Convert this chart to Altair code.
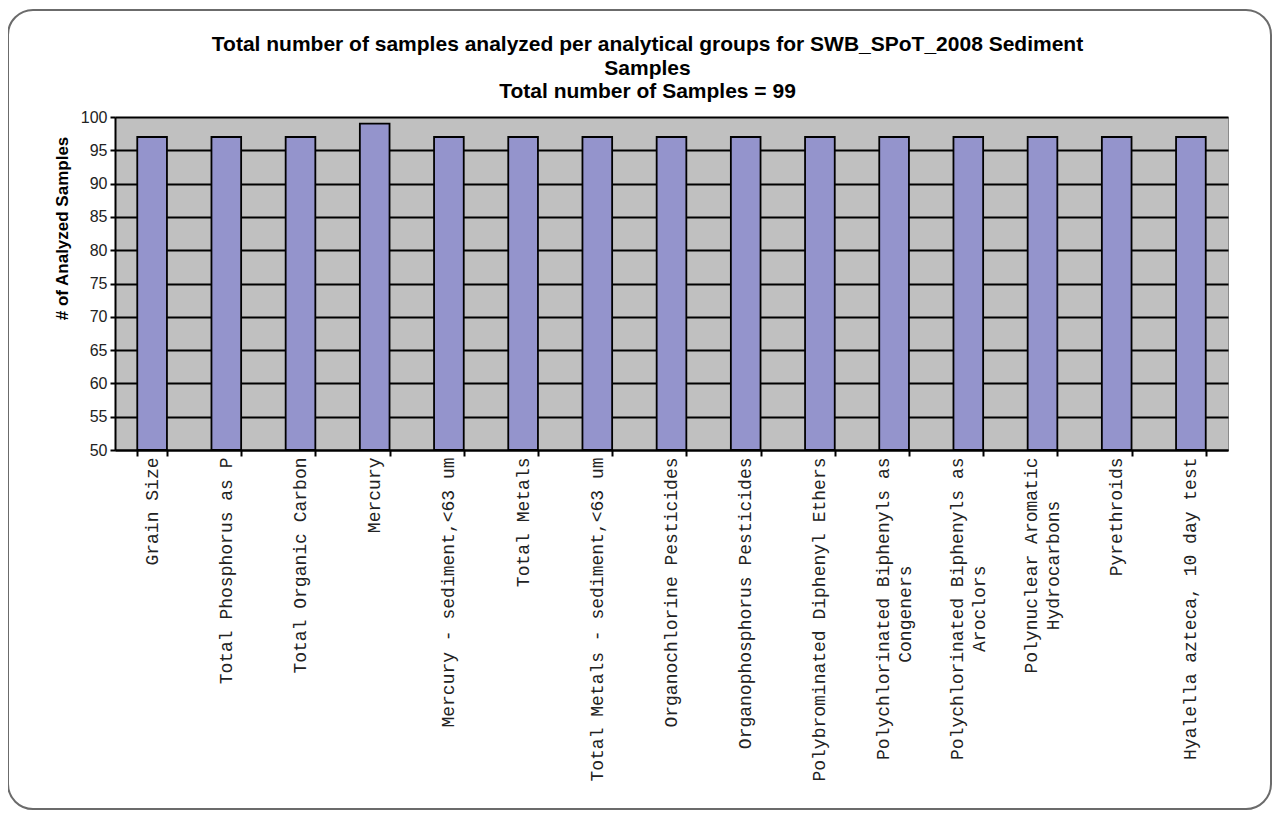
import altair as alt
import pandas as pd

categories = [
    "Grain Size",
    "Total Phosphorus as P",
    "Total Organic Carbon",
    "Mercury",
    "Mercury - sediment,<63 um",
    "Total Metals",
    "Total Metals - sediment,<63 um",
    "Organochlorine Pesticides",
    "Organophosphorus Pesticides",
    "Polybrominated Diphenyl Ethers",
    "Polychlorinated Biphenyls as Congeners",
    "Polychlorinated Biphenyls as Aroclors",
    "Polynuclear Aromatic Hydrocarbons",
    "Pyrethroids",
    "Hyalella azteca, 10 day test",
]
values = [97, 97, 97, 99, 97, 97, 97, 97, 97, 97, 97, 97, 97, 97, 97]

# second lines padded with non-breaking spaces (closed by a zero-width char so
# they are not trimmed) so that they sit centred under the first line
NB = "\u00a0"
ZW = "\u200b"
tick_labels = [
    "Grain Size",
    "Total Phosphorus as P",
    "Total Organic Carbon",
    "Mercury",
    "Mercury - sediment,<63 um",
    "Total Metals",
    "Total Metals - sediment,<63 um",
    "Organochlorine Pesticides",
    "Organophosphorus Pesticides",
    "Polybrominated Diphenyl Ethers",
    "Polychlorinated Biphenyls as|Congeners" + NB * 10 + ZW,
    "Polychlorinated Biphenyls as|Aroclors" + NB * 10 + ZW,
    "Polynuclear Aromatic|Hydrocarbons" + NB * 4 + ZW,
    "Pyrethroids",
    "Hyalella azteca, 10 day test",
]
y_ticks = [50, 55, 60, 65, 70, 75, 80, 85, 90, 95, 100]
y_min = 50

title_lines = [
    "Total number of samples analyzed per analytical groups for SWB_SPoT_2008 Sediment",
    "Samples",
    "Total number of Samples = 99",
]

df = pd.DataFrame({"group": tick_labels, "name": categories, "count": values})

W, H = 1113, 333

bars = alt.Chart(df).mark_bar(
    color="#9494CC", stroke="black", strokeWidth=1.8
).encode(
    x=alt.X(
        "group:N",
        sort=None,
        scale=alt.Scale(paddingInner=0.6, paddingOuter=0.3),
        axis=alt.Axis(
            title=None,
            labelAngle=-90,
            labelFont="Liberation Mono",
            labelFontSize=18,
            labelColor="#222222",
            labelLineHeight=22,
            labelPadding=1,
            labelExpr="split(datum.label, '|')",
            labelOffset={
                "condition": {
                    "test": "isString(datum.value) && indexof(datum.value, '|') >= 0",
                    "value": -11,
                },
                "value": 0,
            },
            tickBand="extent",
            tickSize=6,
            tickWidth=2,
            tickColor="black",
            domainColor="black",
            domainWidth=2,
            grid=False,
            labelOverlap=False,
            labelLimit=0,
            zindex=2,
        ),
    ),
    y=alt.Y(
        "count:Q",
        scale=alt.Scale(domain=[50, 100], zero=False, nice=False),
        axis=alt.Axis(
            title="# of Analyzed Samples",
            titleFont="Liberation Sans",
            titleFontSize=17,
            titleFontWeight="bold",
            titleColor="black",
            titleX=-53,
            titleY=111,
            titleBaseline="middle",
            values=y_ticks,
            labelFont="Liberation Sans",
            labelFontSize=16,
            labelColor="#222222",
            labelPadding=3,
            tickSize=5,
            tickWidth=2,
            tickColor="black",
            domainColor="black",
            domainWidth=2,
            grid=True,
            gridColor="black",
            gridWidth=2,
        ),
    ),
    y2=alt.datum(y_min),
    tooltip=["name:N", "count:Q"],
)

one = pd.DataFrame({"f": [0]})

frame = alt.Chart(one).mark_rect(
    filled=False, stroke="#6b6b6b", strokeWidth=2, cornerRadius=25
).encode(
    x=alt.value(-107), x2=alt.value(1156), y=alt.value(-107), y2=alt.value(692)
)

title = alt.Chart(one).mark_text(
    text=title_lines,
    font="Liberation Sans",
    fontSize=21,
    fontWeight="bold",
    color="black",
    align="center",
    baseline="top",
    lineHeight=23.5,
).encode(x=alt.value(W / 2 - 24), y=alt.value(-83))

chart = alt.layer(frame, bars, title).properties(
    width=W,
    height=H,
    background="white",
    autosize=alt.AutoSizeParams(type="none"),
    padding={"left": 107, "top": 109, "right": 45, "bottom": 361},
).configure_view(
    fill="#C0C0C0", stroke="#8a8a8a", strokeWidth=1
)

chart.save("out.html", embed_options={"renderer": "svg", "actions": False})
